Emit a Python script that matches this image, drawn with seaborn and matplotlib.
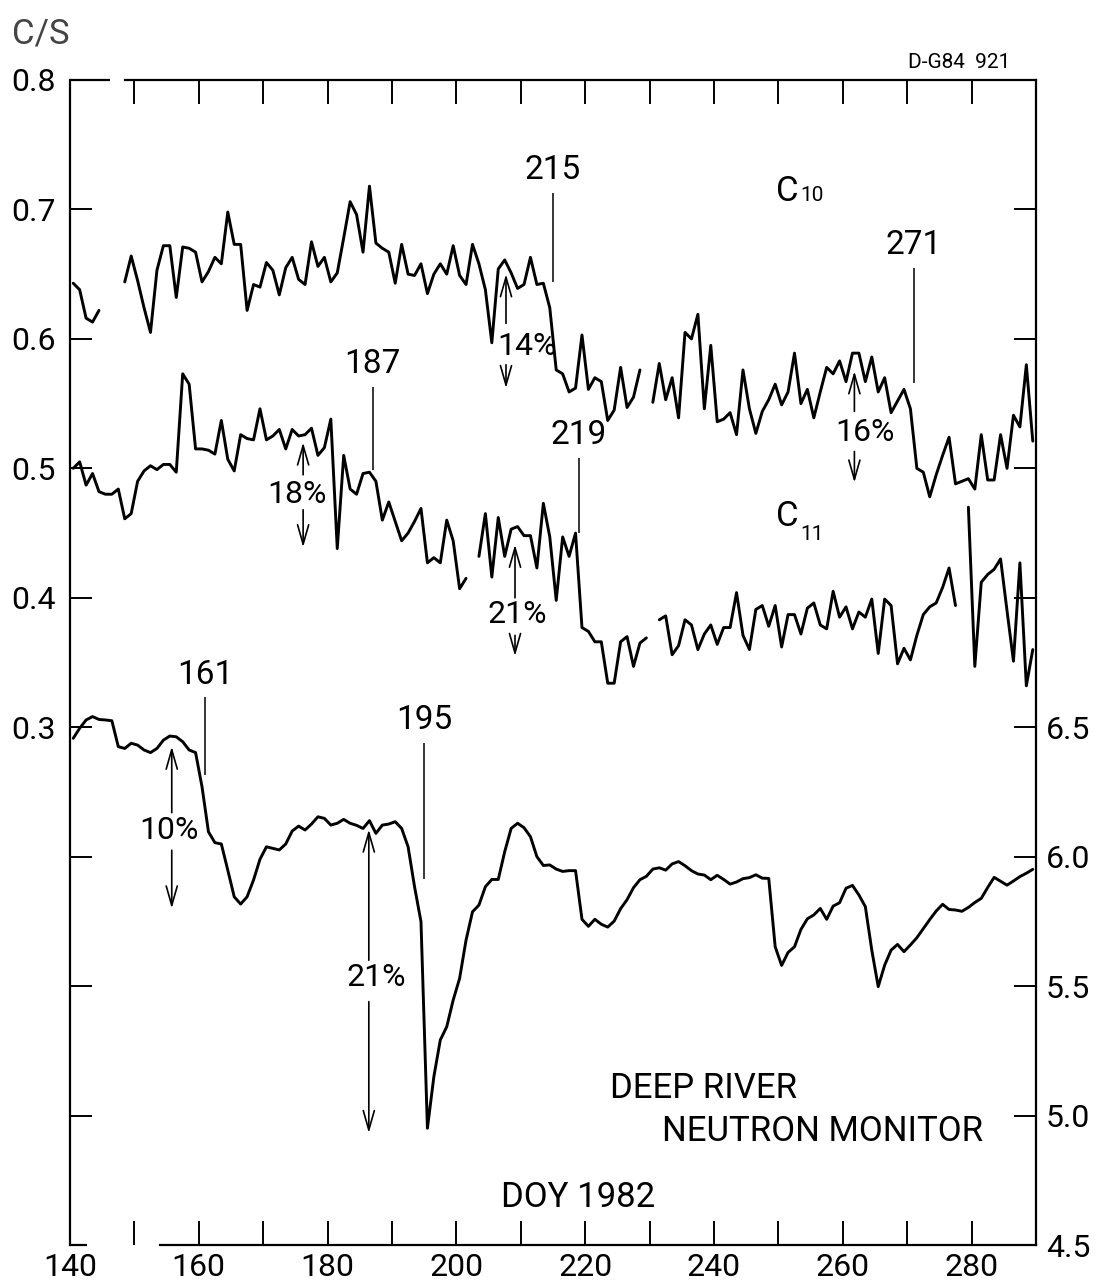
import numpy as np
import pandas as pd
import matplotlib
matplotlib.use("Agg")
import matplotlib.pyplot as plt
import seaborn as sns
from matplotlib import font_manager

nan = np.nan

# Day of year 1982, one value per day (140 .. 289)
days = np.arange(140, 290)

# C10 rate (counts/s); nan marks days without data
c10 = [
    0.643, 0.638, 0.616, 0.613, 0.622, nan, nan, nan, 0.644, 0.664,
    0.645, 0.624, 0.605, 0.653, 0.672, 0.672, 0.632, 0.671, 0.670, 0.667,
    0.644, 0.652, 0.663, 0.658, 0.698, 0.673, 0.673, 0.622, 0.642, 0.640,
    0.659, 0.653, 0.634, 0.655, 0.663, 0.646, 0.642, 0.675, 0.656, 0.663,
    0.644, 0.651, 0.678, 0.706, 0.696, 0.667, 0.718, 0.674, 0.670, 0.667,
    0.643, 0.673, 0.650, 0.649, 0.658, 0.635, 0.650, 0.658, 0.650, 0.672,
    0.649, 0.642, 0.673, 0.658, 0.638, 0.597, 0.654, 0.661, 0.651, 0.639,
    0.642, 0.663, 0.642, 0.643, 0.624, 0.576, 0.573, 0.559, 0.562, 0.603,
    0.561, 0.570, 0.567, 0.537, 0.545, 0.578, 0.547, 0.555, 0.576, nan,
    0.551, 0.581, 0.553, 0.570, 0.539, 0.605, 0.600, 0.619, 0.546, 0.595,
    0.536, 0.538, 0.543, 0.526, 0.576, 0.546, 0.527, 0.544, 0.553, 0.565,
    0.549, 0.559, 0.589, 0.550, 0.561, 0.539, 0.559, 0.578, 0.573, 0.583,
    0.567, 0.589, 0.589, 0.567, 0.586, 0.559, 0.570, 0.543, 0.552, 0.561,
    0.546, 0.500, 0.497, 0.478, 0.495, 0.510, 0.524, 0.488, 0.490, 0.492,
    0.484, 0.526, 0.491, 0.491, 0.526, 0.500, 0.541, 0.532, 0.580, 0.521,
]

# C11 rate (counts/s)
c11 = [
    0.500, 0.505, 0.487, 0.496, 0.482, 0.480, 0.480, 0.484, 0.461, 0.465,
    0.490, 0.498, 0.502, 0.499, 0.503, 0.503, 0.497, 0.573, 0.565, 0.515,
    0.515, 0.514, 0.511, 0.537, 0.507, 0.498, 0.526, 0.523, 0.522, 0.546,
    0.522, 0.525, 0.530, 0.515, 0.530, 0.525, 0.526, 0.531, 0.510, 0.516,
    0.538, 0.438, 0.510, 0.484, 0.480, 0.496, 0.497, 0.490, 0.460, 0.474,
    0.459, 0.444, 0.450, 0.459, 0.469, 0.427, 0.431, 0.427, 0.460, 0.444,
    0.407, 0.415, nan, 0.432, 0.465, 0.416, 0.462, 0.432, 0.453, 0.455,
    0.448, 0.448, 0.423, 0.473, 0.447, 0.398, 0.447, 0.432, 0.450, 0.377,
    0.374, 0.366, 0.366, 0.334, 0.334, 0.366, 0.370, 0.347, 0.365, 0.369,
    nan, 0.383, 0.386, 0.356, 0.363, 0.383, 0.379, 0.360, 0.372, 0.379,
    0.364, 0.377, 0.377, 0.404, 0.371, 0.360, 0.391, 0.394, 0.378, 0.394,
    0.362, 0.387, 0.387, 0.372, 0.392, 0.396, 0.379, 0.376, 0.405, 0.385,
    0.393, 0.376, 0.389, 0.385, 0.399, 0.357, 0.399, 0.394, 0.349, 0.361,
    0.352, 0.371, 0.387, 0.393, 0.396, 0.408, 0.423, 0.394, nan, 0.470,
    0.347, 0.412, 0.418, 0.422, 0.430, 0.390, 0.351, 0.427, 0.332, 0.360,
]

# Deep River neutron monitor (right-hand scale)
neutron = [
    6.457, 6.496, 6.528, 6.541, 6.530, 6.528, 6.525, 6.425, 6.418, 6.438,
    6.431, 6.412, 6.402, 6.418, 6.450, 6.466, 6.463, 6.444, 6.412, 6.402,
    6.270, 6.096, 6.054, 6.049, 5.948, 5.845, 5.817, 5.845, 5.910, 5.990,
    6.038, 6.032, 6.026, 6.049, 6.099, 6.118, 6.103, 6.126, 6.154, 6.148,
    6.122, 6.129, 6.144, 6.129, 6.121, 6.109, 6.139, 6.090, 6.122, 6.126,
    6.135, 6.109, 6.038, 5.884, 5.749, 4.951, 5.150, 5.292, 5.343, 5.446,
    5.530, 5.678, 5.787, 5.813, 5.884, 5.912, 5.912, 6.019, 6.109, 6.129,
    6.112, 6.077, 6.000, 5.966, 5.968, 5.952, 5.943, 5.946, 5.946, 5.758,
    5.731, 5.758, 5.739, 5.728, 5.751, 5.799, 5.834, 5.880, 5.911, 5.924,
    5.952, 5.957, 5.948, 5.972, 5.981, 5.965, 5.946, 5.933, 5.929, 5.911,
    5.928, 5.912, 5.894, 5.902, 5.915, 5.919, 5.930, 5.917, 5.916, 5.652,
    5.580, 5.630, 5.652, 5.719, 5.760, 5.775, 5.800, 5.758, 5.809, 5.822,
    5.878, 5.889, 5.852, 5.807, 5.639, 5.498, 5.581, 5.639, 5.661, 5.633,
    5.659, 5.687, 5.722, 5.757, 5.790, 5.816, 5.796, 5.794, 5.789, 5.804,
    5.823, 5.839, 5.881, 5.920, 5.905, 5.890, 5.906, 5.923, 5.936, 5.951,
]

# Axis ticks and labels
x_major = np.arange(140, 290, 20)
x_minor = np.arange(150, 290, 20)
left_ticks = [0.0, 0.1, 0.2, 0.3, 0.4, 0.5, 0.6, 0.7, 0.8]
left_labels = ["", "", "", "0.3", "0.4", "0.5", "0.6", "0.7", "0.8"]
right_ticks = [4.5, 5.0, 5.5, 6.0, 6.5, 7.0, 7.5, 8.0, 8.5]
right_labels = ["4.5", "5.0", "5.5", "6.0", "6.5", "", "", "", ""]

# Event days marked with a vertical bar
event_days = [161, 187, 195, 215, 219, 271]

# Percentage decreases
drop_labels = ["14%", "18%", "21%", "16%", "10%", "21%"]

# ---------------------------------------------------------------- style
sns.set_theme(style="ticks", rc={
    "axes.edgecolor": "black", "xtick.color": "black", "ytick.color": "black",
    "text.color": "black", "axes.labelcolor": "black",
})
avail = {f.name for f in font_manager.fontManager.ttflist}
FONT = "DejaVu Sans"
for cand in ["Roboto", "Lato", "DejaVu Sans"]:
    if cand in avail:
        FONT = cand
        break
plt.rcParams["font.family"] = [FONT, "DejaVu Sans"]
plt.rcParams["font.weight"] = "normal"

W, H = 1105, 1286
fig = plt.figure(figsize=(W / 100, H / 100), dpi=100)
ax = fig.add_axes([70 / W, 1 - 1245 / H, (1036 - 70) / W, (1245 - 80) / H])
ax2 = ax.twinx()


def segments(values):
    v = np.asarray(values, dtype=float)
    seg = np.cumsum(np.isnan(v))
    return pd.DataFrame({"day": days + 0.5, "value": v, "seg": seg}).dropna()


LW = 2.1
sns.lineplot(data=segments(c10), x="day", y="value", units="seg", estimator=None,
             color="black", lw=LW, ax=ax, legend=False)
sns.lineplot(data=segments(c11), x="day", y="value", units="seg", estimator=None,
             color="black", lw=LW, ax=ax, legend=False)
sns.lineplot(data=segments(neutron), x="day", y="value", units="seg", estimator=None,
             color="black", lw=LW, ax=ax2, legend=False)

ax.set_xlim(140, 290)
ax.set_ylim(-0.1, 0.8)
ax2.set_ylim(4.5, 9.0)
for a in (ax, ax2):
    a.set_xlabel("")
    a.set_ylabel("")

# ---------------------------------------------------------------- ticks
TICK_FS = 23
ax.set_xticks(x_major)
ax.set_xticklabels([str(v) for v in x_major])
ax.set_xticks(x_minor, minor=True)
ax.tick_params(axis="x", which="both", direction="in", length=17, width=1.4,
               top=True, bottom=True, labelsize=TICK_FS, pad=6)
ax.set_yticks(left_ticks)
ax.set_yticklabels(left_labels)
ax.tick_params(axis="y", direction="in", length=16, width=1.4, left=True,
               right=False, labelsize=TICK_FS, pad=10)
ax2.set_yticks(right_ticks)
ax2.set_yticklabels(right_labels)
ax2.tick_params(axis="y", direction="in", length=16, width=1.4, right=True,
                left=False, labelsize=TICK_FS, pad=7)

# ---------------------------------------------------------------- frame
for s in ("top", "bottom", "left"):
    ax2.spines[s].set_visible(False)
ax.spines["right"].set_visible(False)
for a in (ax, ax2):
    for sp in a.spines.values():
        sp.set_linewidth(1.6)
ax.spines["bottom"].set_bounds(154, 290)
ax.spines["top"].set_bounds(148.5, 290)
ax.plot([140, 142.6], [-0.1, -0.1], color="black", lw=1.6, clip_on=False,
        solid_capstyle="butt")
ax.plot([140, 146.2], [0.8, 0.8], color="black", lw=1.6, clip_on=False,
        solid_capstyle="butt")

# ---------------------------------------------------------------- event bars
event_lo = [0.263, 0.499, 0.183, 0.644, 0.450, 0.566]
event_hi = [0.323, 0.563, 0.288, 0.713, 0.508, 0.655]
ax.vlines(event_days, event_lo, event_hi, color="black", lw=1.1)
for d, hi in zip(event_days, event_hi):
    ax.annotate(str(d), xy=(d, hi), xytext=(0, 5), textcoords="offset points",
                ha="center", va="bottom", fontsize=24)

# ---------------------------------------------------------------- decreases
drop_x = [207.7, 176.2, 209.1, 261.8, 155.8, 186.4]
drop_text = [(210.9, 0.594), (175.2, 0.480), (209.5, 0.387),
             (263.4, 0.528), (155.4, 0.220), (187.5, 0.107)]
drop_up = [(0.612, 0.650), (0.495, 0.520), (0.400, 0.441),
           (0.544, 0.575), (0.234, 0.285), (0.120, 0.221)]
drop_down = [(0.580, 0.562), (0.468, 0.439), (0.371, 0.355),
             (0.513, 0.489), (0.205, 0.160), (0.088, -0.0135)]
arrow_kw = dict(arrowstyle="->,head_length=0.7,head_width=0.2", lw=1.2,
                color="black", shrinkA=0, shrinkB=0, mutation_scale=20)
for lab, x, (tx, ty), up, dn in zip(drop_labels, drop_x, drop_text, drop_up, drop_down):
    ax.text(tx, ty, lab, ha="center", va="center", fontsize=23)
    ax.annotate("", xy=(x, up[1]), xytext=(x, up[0]), arrowprops=arrow_kw)
    ax.annotate("", xy=(x, dn[1]), xytext=(x, dn[0]), arrowprops=arrow_kw)

# ---------------------------------------------------------------- series names
for (x, y, sub, dy) in [(249.7, 0.7065, "10", 0), (249.7, 0.4554, "11", -10)]:
    ax.text(x, y, "C", fontsize=25, ha="left", va="baseline")
    ax.annotate(sub, xy=(x, y), xytext=(17, dy), textcoords="offset points",
                fontsize=15, ha="left", va="baseline")

ax.text(223.8, 0.0135, "DEEP RIVER", fontsize=25, va="baseline")
ax.text(232.0, -0.0197, "NEUTRON MONITOR", fontsize=25, va="baseline")
ax.text(206.9, -0.0707, "DOY 1982", fontsize=25, va="baseline")

fig.text(12 / W, 1 - 43 / H, "C/S", fontsize=25, color="#444444", va="baseline")
fig.text(1010 / W, 1 - 68 / H, "D-G84  921", fontsize=15, ha="right", va="baseline")

fig.savefig("out.png", dpi=100, facecolor="white")
